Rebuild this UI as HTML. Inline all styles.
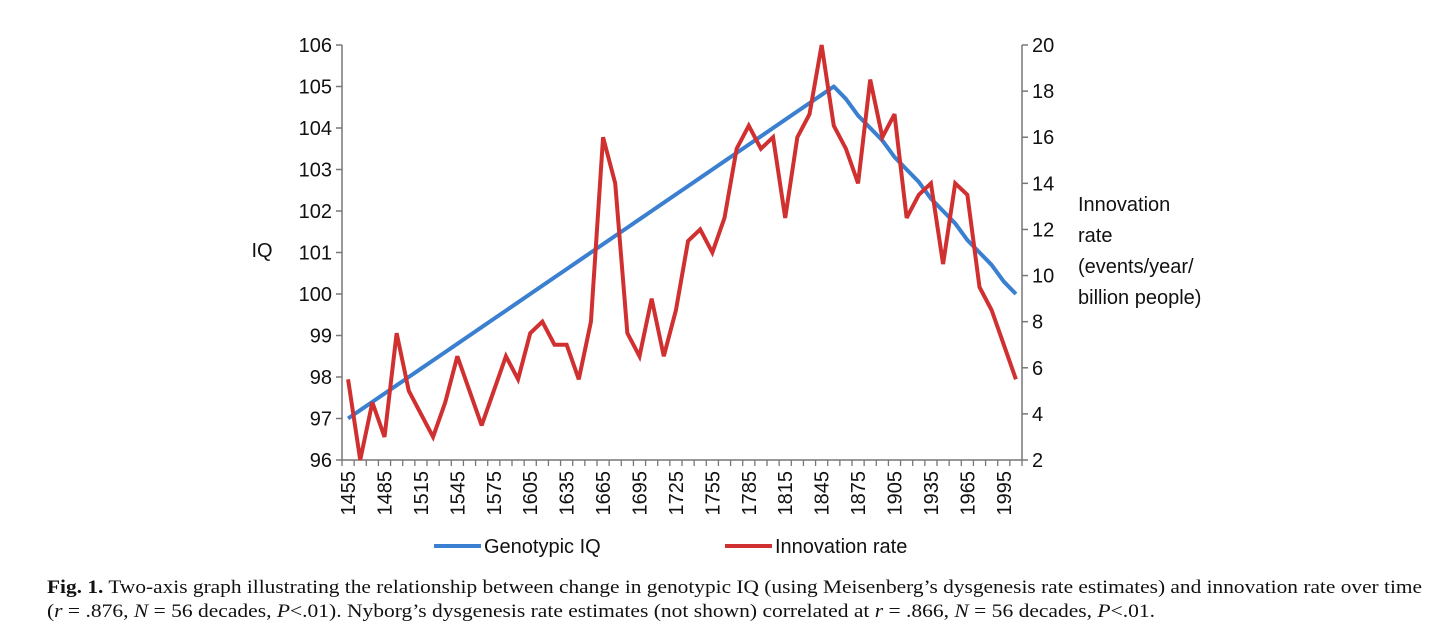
<!DOCTYPE html>
<html><head><meta charset="utf-8"><style>
html,body{margin:0;padding:0;background:#fff;}
svg{display:block;}
.ax{font-family:"Liberation Sans",sans-serif;font-size:20px;fill:#111;}
.cap{font-family:"Liberation Serif",serif;font-size:19px;fill:#111;}
</style></head><body>
<svg id="chart" width="1456" height="640" viewBox="0 0 1456 640" xmlns="http://www.w3.org/2000/svg">
<g id="g"></g>
<text class="ax" x="262" y="257" text-anchor="middle" font-size="20">IQ</text>
<g class="ax" font-size="20">
<text x="1078" y="211">Innovation</text>
<text x="1078" y="242">rate</text>
<text x="1078" y="273">(events/year/</text>
<text x="1078" y="304">billion people)</text>
</g>
<g>
<line x1="434" y1="546" x2="481" y2="546" stroke="#3a7fd0" stroke-width="4"/>
<text class="ax" x="484" y="553">Genotypic IQ</text>
<line x1="725" y1="546" x2="772" y2="546" stroke="#d03030" stroke-width="4"/>
<text class="ax" x="775" y="553">Innovation rate</text>
</g>
<g>
<text class="cap" x="47" y="593" textLength="1375" lengthAdjust="spacingAndGlyphs"><tspan font-weight="bold">Fig. 1.</tspan> Two-axis graph illustrating the relationship between change in genotypic IQ (using Meisenberg’s dysgenesis rate estimates) and innovation rate over time</text>
<text class="cap" x="47" y="617" textLength="1108" lengthAdjust="spacingAndGlyphs">(<tspan font-style="italic">r</tspan> = .876, <tspan font-style="italic">N</tspan> = 56 decades, <tspan font-style="italic">P</tspan>&lt;.01). Nyborg’s dysgenesis rate estimates (not shown) correlated at <tspan font-style="italic">r</tspan> = .866, <tspan font-style="italic">N</tspan> = 56 decades, <tspan font-style="italic">P</tspan>&lt;.01.</text>
</g>
</svg>
<script>
const decades = [];
for (let y = 1455; y <= 2005; y += 10) decades.push(y);
const iqValues = [97.0,97.2,97.4,97.6,97.8,98.0,98.2,98.4,98.6,98.8,99.0,99.2,99.4,99.6,99.8,100.0,100.2,100.4,100.6,100.8,101.0,101.2,101.4,101.6,101.8,102.0,102.2,102.4,102.6,102.8,103.0,103.2,103.4,103.6,103.8,104.0,104.2,104.4,104.6,104.8,105.0,104.7,104.3,104.0,103.7,103.3,103.0,102.7,102.3,102.0,101.7,101.3,101.0,100.7,100.3,100.0];
const innovationValues = [5.5,2,4.5,3,7.5,5,4,3,4.5,6.5,5,3.5,5,6.5,5.5,7.5,8,7,7,5.5,8,16,14,7.5,6.5,9,6.5,8.5,11.5,12,11,12.5,15.5,16.5,15.5,16,12.5,16,17,20,16.5,15.5,14,18.5,16,17,12.5,13.5,14,10.5,14,13.5,9.5,8.5,7,5.5];
const leftTicks = [96,97,98,99,100,101,102,103,104,105,106];
const rightTicks = [2,4,6,8,10,12,14,16,18,20];
const xLabelYears = [1455,1485,1515,1545,1575,1605,1635,1665,1695,1725,1755,1785,1815,1845,1875,1905,1935,1965,1995];

const NS = "http://www.w3.org/2000/svg";
const g = document.getElementById('g');
const L = 342, R = 1022, T = 45, B = 460;
const step = (R - L) / decades.length;
const xPos = i => L + step * (i + 0.5);
const yL = v => B - (v - 96) / 10 * (B - T);
const yR = v => B - (v - 2) / 18 * (B - T);
function mk(tag, attrs) { const e = document.createElementNS(NS, tag); for (const k in attrs) e.setAttribute(k, attrs[k]); g.appendChild(e); return e; }

let e = mk('line', {x1:L, y1:T, x2:L, y2:B, stroke:'#777', 'stroke-width':1.5});


e = mk('line', {x1:R, y1:T, x2:R, y2:B, stroke:'#777', 'stroke-width':1.5});


e = mk('line', {x1:L, y1:B, x2:R, y2:B, stroke:'#777', 'stroke-width':1.5});



leftTicks.forEach(v => {
  const y = yL(v);
  const t = mk('line', {x1:L-6, y1:y, x2:L, y2:y, stroke:'#777', 'stroke-width':1.5});
  
  
  const tx = mk('text', {x:L-10, y:y+7, 'text-anchor':'end', class:'ax'});
  tx.textContent = v;
  
  
});
rightTicks.forEach(v => {
  const y = yR(v);
  const t = mk('line', {x1:R, y1:y, x2:R+6, y2:y, stroke:'#777', 'stroke-width':1.5});
  
  
  const tx = mk('text', {x:R+10, y:y+7, class:'ax'});
  tx.textContent = v;
  
  
});
for (let i = 0; i <= decades.length; i++) {
  const x = L + step * i;
  const t = mk('line', {x1:x, y1:B, x2:x, y2:B+6, stroke:'#777', 'stroke-width':1.3});
  
  
}
xLabelYears.forEach(yr => {
  const i = decades.indexOf(yr);
  const x = xPos(i);
  const tx = mk('text', {x:0, y:0, class:'ax', 'text-anchor':'end', transform:`translate(${x+7},${B+11}) rotate(-90)`});
  tx.textContent = yr;
  
  
});

const ptsIQ = iqValues.map((v, i) => xPos(i) + ',' + yL(v)).join(' ');
e = mk('polyline', {points:ptsIQ, fill:'none', stroke:'#3a7fd0', 'stroke-width':4, 'stroke-linejoin':'round'});


const ptsIn = innovationValues.map((v, i) => xPos(i) + ',' + yR(v)).join(' ');
e = mk('polyline', {points:ptsIn, fill:'none', stroke:'#d03030', 'stroke-width':4, 'stroke-linejoin':'miter', 'stroke-miterlimit':3});


</script>
</body></html>
